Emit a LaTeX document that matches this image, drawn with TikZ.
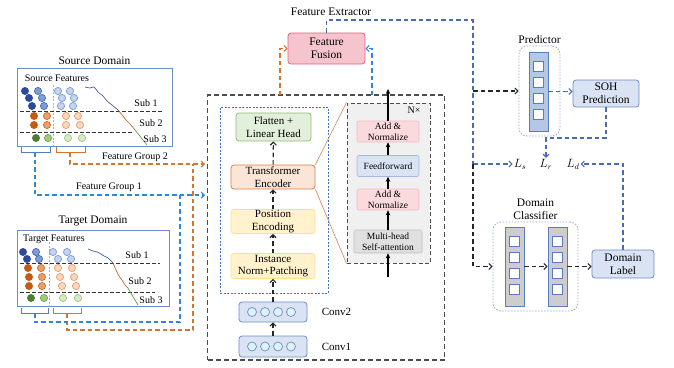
\documentclass[tikz,border=0pt]{standalone}
\usepackage{fontspec}
\setmainfont{Liberation Serif}
\usetikzlibrary{positioning,arrows.meta}

\definecolor{blueA}{HTML}{2B4A9A}
\definecolor{blueB}{HTML}{7D9DD8}
\definecolor{blueC}{HTML}{C4D4F0}
\definecolor{blueD}{HTML}{3F5FAE}
\definecolor{orangeA}{HTML}{C55A11}
\definecolor{orangeB}{HTML}{EE9E68}
\definecolor{orangeC}{HTML}{F9D7C0}
\definecolor{orangeD}{HTML}{C0662A}
\definecolor{greenA}{HTML}{4E7E30}
\definecolor{greenB}{HTML}{A0CC82}
\definecolor{greenC}{HTML}{D5EAC6}
\definecolor{greenD}{HTML}{639A3E}
\definecolor{panelc}{HTML}{6D8CC8}
\definecolor{dkblue}{HTML}{4A6AB5}
\definecolor{fgblue}{HTML}{2E86DE}
\definecolor{fgorange}{HTML}{D9742B}
\definecolor{innerc}{HTML}{4472C4}
\definecolor{fff}{HTML}{F6C4CC}
\definecolor{ffd}{HTML}{E0607A}
\definecolor{greenf}{HTML}{E2EFDA}
\definecolor{greend}{HTML}{8FBC73}
\definecolor{oranf}{HTML}{FBE5D6}
\definecolor{orand}{HTML}{D9804A}
\definecolor{yelf}{HTML}{FFF2CC}
\definecolor{yeld}{HTML}{FFE08A}
\definecolor{pinkf}{HTML}{FADADD}
\definecolor{pinkd}{HTML}{F2B8C2}
\definecolor{bluef}{HTML}{DAE3F3}
\definecolor{blued}{HTML}{6D8CC8}
\definecolor{ffwd}{HTML}{A4B8E0}
\definecolor{grayf}{HTML}{E0E0E0}
\definecolor{grayd}{HTML}{C0C0C0}
\definecolor{nfill}{HTML}{F0F0F0}
\definecolor{convc}{HTML}{DEF3F8}
\definecolor{predbar}{HTML}{B4C7E7}
\definecolor{sqc}{HTML}{5B7BC0}
\definecolor{dotc}{HTML}{8FAADC}

\tikzset{
  box/.style={draw, rounded corners=3pt, align=center, inner sep=1pt,
    line width=0.8pt, font=\fontsize{11}{12.5}\selectfont},
  sbox/.style={draw, rounded corners=2pt, align=center, inner sep=1pt,
    line width=0.6pt, minimum width=62pt, font=\fontsize{9.5}{10.5}\selectfont},
  lbl/.style={inner sep=1pt, font=\fontsize{10}{11}\selectfont},
  ttl/.style={inner sep=1pt, align=center, font=\fontsize{11.5}{13}\selectfont},
  panel/.style={draw=panelc, line width=0.8pt},
  dotbox/.style={draw=dotc, rounded corners=8pt, line width=0.8pt,
    dash pattern=on 1.5pt off 1.5pt},
  bar/.style={draw=sqc, line width=0.7pt, minimum width=19pt,
    minimum height=79pt, inner sep=0pt},
  sq/.style={draw=sqc, fill=white, line width=0.7pt, minimum size=10pt,
    inner sep=0pt},
  dline/.style={line width=1.1pt, dash pattern=on 4.5pt off 3pt},
  barb/.style={-{Straight Barb[length=3pt,width=6pt]}},
  arr/.style={line width=1.1pt, -{Stealth[length=5pt,width=4.5pt]}},
  bline/.style={dline, fgblue},
  oline/.style={dline, fgorange},
  dkline/.style={dline, dkblue},
  kline/.style={dline, black!85},
  sepline/.style={black!80, line width=0.9pt, dash pattern=on 3.5pt off 2.5pt},
}

\begin{document}
\begin{tikzpicture}[x=1pt, y=-1pt]
\useasboundingbox (0,0) rectangle (674,367);

% source domain
\node[panel, minimum width=155pt, minimum height=78pt] (src) at (94.5,107) {};
\node[ttl, above=2pt of src] (srcttl) {Source Domain};
\node[lbl] (srcft) at (57,78) {Source Features};
\draw[orangeB, line width=0.8pt, dash pattern=on 2pt off 1.5pt] (53,85) -- (53,146);
\draw[sepline] (20,111) -- (162,111);
\draw[sepline] (20,132) -- (133,132);
\foreach \y/\xa/\xb/\xc/\xd/\col in {91/25/38/58/70/blue, 98/29/42/62/74/blue,
    106/32/44/61/73/blue, 116/34/47/66/78/orange, 125/34/47/66/80/orange,
    138/36/48/68/82/green} {
  \filldraw[fill=\col A, draw=\col A, line width=0.6pt] (\xa,\y) circle (3.6pt);
  \filldraw[fill=\col B, draw=\col D, line width=0.6pt] (\xb,\y) circle (3.6pt);
  \filldraw[fill=\col C, draw=\col B, line width=0.7pt] (\xc,\y) circle (3.6pt);
  \filldraw[fill=\col C, draw=\col B, line width=0.7pt] (\xd,\y) circle (3.6pt);
}
\draw[blueD, line width=0.7pt] plot[smooth] coordinates {(85,87) (90,88) (94,87) (98,92) (103,96) (107,101) (112,105) (118,110)};
\draw[orangeD, line width=0.7pt] plot[smooth] coordinates {(118,110) (123,116) (126,120) (130,124) (135,130)};
\draw[greenD, line width=0.7pt] plot[smooth] coordinates {(135,130) (139,135) (143,140) (147,145)};
\node[lbl] (ssub1) at (146,103) {Sub 1};
\node[lbl] (ssub2) at (151,123) {Sub 2};
\node[lbl] (ssub3) at (155,139) {Sub 3};
\draw[sqc, line width=0.8pt] (21,147) -- (21,152) -- (50,152) -- (50,147);
\draw[fgorange, line width=0.8pt] (56,147) -- (56,152) -- (85,152) -- (85,147);
\coordinate (sbb) at (35,152);
\coordinate (sbo) at (70,152);

% target domain
\node[panel, minimum width=152pt, minimum height=76pt] (tgt) at (93,268) {};
\node[ttl, above=2pt of tgt] (tgtttl) {Target Domain};
\node[lbl] (tgtft) at (54,239) {Target Features};
\draw[orangeB, line width=0.8pt, dash pattern=on 2pt off 1.5pt] (49,242) -- (49,306);
\draw[sepline] (20,263) -- (160,263);
\draw[sepline] (20,292) -- (155,292);
\foreach \y/\xa/\xb/\xc/\xd/\col in {252/23/36/53/67/blue, 259/27/39/58/71/blue,
    268/28/41/58/72/orange, 277/29/42/60/74/orange, 286/29/42/62/76/orange,
    298/31/44/63/78/green} {
  \filldraw[fill=\col A, draw=\col A, line width=0.6pt] (\xa,\y) circle (3.6pt);
  \filldraw[fill=\col B, draw=\col D, line width=0.6pt] (\xb,\y) circle (3.6pt);
  \filldraw[fill=\col C, draw=\col B, line width=0.7pt] (\xc,\y) circle (3.6pt);
  \filldraw[fill=\col C, draw=\col B, line width=0.7pt] (\xd,\y) circle (3.6pt);
}
\draw[blueD, line width=0.7pt] plot[smooth] coordinates {(88,249) (93,251) (97,252) (101,254) (104,256) (108,258) (113,263)};
\draw[orangeD, line width=0.7pt] plot[smooth] coordinates {(113,263) (116,270) (119,276) (122,280) (125,285) (128,288)};
\draw[greenD, line width=0.7pt] plot[smooth] coordinates {(128,288) (132,295) (135,300) (138,305)};
\node[lbl] (tsub1) at (137,255) {Sub 1};
\node[lbl] (tsub2) at (140,281) {Sub 2};
\node[lbl] (tsub3) at (151,300) {Sub 3};
\draw[sqc, line width=0.8pt] (21,308) -- (21,313) -- (48,313) -- (48,308);
\draw[fgorange, line width=0.8pt] (53,308) -- (53,313) -- (81,313) -- (81,308);
\coordinate (tbb) at (35,313);
\coordinate (tbo) at (67,313);

% feature groups
\coordinate (g2) at (205,164);
\coordinate (g1) at (205,195);
\coordinate (tj1) at (180,322);
\coordinate (tj2) at (193,330);
\draw[oline] (tbo) |- (tj2) -- (tj2 |- g2);
\draw[bline] (tbb) |- (tj1) -- (tj1 |- g1);
\draw[oline, barb] (sbo) |- (g2);
\draw[bline, barb] (sbb) |- (g1);
\node[lbl] (fg2) at (135,157) {Feature Group 2};
\node[lbl] (fg1) at (109,187) {Feature Group 1};

% feature extractor
\node[draw=black!70, line width=1.1pt, dash pattern=on 5pt off 3pt,
  minimum width=237pt, minimum height=265pt] (fe) at (326,227.5) {};
\node[draw=innerc, line width=0.7pt, dash pattern=on 2pt off 1.5pt,
  minimum width=108pt, minimum height=186pt] (col) at (274,200) {};
\node[box, fill=greenf, draw=greend, minimum width=75pt, minimum height=28pt] (flat) at (273.5,127) {Flatten +\\Linear Head};
\node[box, fill=oranf, draw=orand, minimum width=84pt, minimum height=24pt] (te) at (273,177) {Transformer\\Encoder};
\node[box, fill=yelf, draw=yeld, minimum width=84pt, minimum height=24pt] (pe) at (273,221.5) {Position\\Encoding};
\node[box, fill=yelf, draw=yeld, minimum width=84pt, minimum height=25pt] (inp) at (273,266) {Instance\\Norm+Patching};
\node[box, fill=bluef, draw=blued, minimum width=68pt, minimum height=20pt] (conv2) at (273,312) {};
\node[box, fill=bluef, draw=blued, minimum width=68pt, minimum height=21pt] (conv1) at (273,346.5) {};
\foreach \y in {312,346.5}
  \foreach \x in {252,265,278,291}
    \filldraw[fill=convc, draw=blued, line width=0.7pt] (\x,\y) circle (4.5pt);
\node[box, draw=none, right=13pt of conv2] (c2l) {Conv2};
\node[box, draw=none, right=13pt of conv1] (c1l) {Conv1};
\draw[kline, barb] (conv1) -- (conv2);
\draw[kline, barb] (conv2) -- (inp);
\draw[kline, barb] (inp) -- (pe);
\draw[kline, barb] (pe) -- (te);
\draw[kline, barb] (te) -- (flat);

% encoder block
\node[draw=black!70, fill=nfill, line width=1pt, dash pattern=on 4pt off 2.5pt,
  minimum width=83pt, minimum height=160pt] (nx) at (388.5,183) {};
\node[lbl] (nxl) at (414,110) {N×};
\node[sbox, fill=pinkf, draw=pinkd, minimum height=21pt] (an2) at (388,131.5) {Add \&\\Normalize};
\node[sbox, fill=bluef, draw=ffwd, minimum height=21pt] (ffw) at (388,166) {Feedforward};
\node[sbox, fill=pinkf, draw=pinkd, minimum height=21pt] (an1) at (388,199.5) {Add \&\\Normalize};
\node[sbox, fill=grayf, draw=grayd, minimum width=68pt, minimum height=23pt] (mha) at (388,241.5) {Multi-head\\Self-attention};
\draw[orand, line width=0.6pt] (te.north east) -- (nx.north west);
\draw[orand, line width=0.6pt] (te.south east) -- (nx.south west);
\coordinate (nin) at (388,277);
\coordinate (nout) at (388,89);
\draw[arr] (nin) -- (mha);
\draw[arr] (mha) -- (an1);
\draw[arr] (an1) -- (ffw);
\draw[arr] (ffw) -- (an2);
\draw[arr] (an2) -- (nout);

% feature fusion
\node[box, fill=fff, draw=ffd, minimum width=77pt, minimum height=31pt,
  font=\fontsize{11.5}{13}\selectfont] (ff) at (326.5,48.5) {Feature\\Fusion};
\node[ttl] (fet) at (331,12) {Feature Extractor};
\coordinate (fo) at (280,95);
\coordinate (fb) at (372,95);
\draw[oline, barb] (fo) |- (ff.west);
\draw[bline, barb] (fb) |- (ff.east);

% predictor
\node[dotbox, minimum width=41pt, minimum height=90pt] (pred) at (539.5,91) {};
\node[ttl, above=1pt of pred] (predt) {Predictor};
\node[bar, fill=predbar] (pbar) at (538.5,91.5) {};
\foreach \i/\y in {1/66,2/82,3/98,4/114}
  \node[sq] (psq\i) at (538.5,\y) {};
\node[box, fill=bluef, draw=blued, minimum width=66pt, minimum height=27pt,
  font=\fontsize{11.5}{13}\selectfont] (soh) at (606,93.5) {SOH\\Prediction};
\draw[dkline, barb] (pbar.east) -- (pbar.east -| soh.west);

% losses
\node[ttl] (ls) at (520,164) {$L_s$};
\node[ttl] (lr) at (546,164) {$L_r$};
\node[ttl] (ld) at (573,164) {$L_d$};
\coordinate (fbk) at (546,138);
\draw[dkline, barb] (soh.south) |- (fbk) -- (lr.north);

% domain classifier
\node[dotbox, minimum width=85pt, minimum height=89pt] (dc) at (535.5,266.5) {};
\node[ttl, above=1pt of dc] (dct) {Domain\\Classifier};
\node[bar, fill=grayd!80] (dcb1) at (514.5,266.5) {};
\node[bar, fill=grayd!80] (dcb2) at (557.5,266.5) {};
\foreach \b/\x in {1/514.5,2/557.5}
  \foreach \i/\y in {1/241,2/257,3/273,4/289}
    \node[sq] (dsq\b\i) at (\x,\y) {};
\node[box, fill=bluef, draw=blued, minimum width=62pt, minimum height=28pt,
  font=\fontsize{11.5}{13}\selectfont] (dl) at (623,264) {Domain\\Label};
\draw[kline, barb] (dcb1.east) -- (dcb1.east -| dcb2.west);
\draw[kline, barb] (dcb2.east) -- (dcb2.east -| dl.west);
\draw[dkline, barb] (dl.north) |- (ld.east);

% extractor output
\coordinate (tr) at (473,20);
\coordinate (jp) at (473,91);
\coordinate (jn) at (473,164);
\draw[dkline] (ff.north) |- (tr) -- (jn);
\draw[kline, barb] (jp) -- (pred.west);
\draw[dkline, barb] (jn) -- (ls.west);
\draw[kline, barb] (jn) |- (dc.west);
\end{tikzpicture}
\end{document}
